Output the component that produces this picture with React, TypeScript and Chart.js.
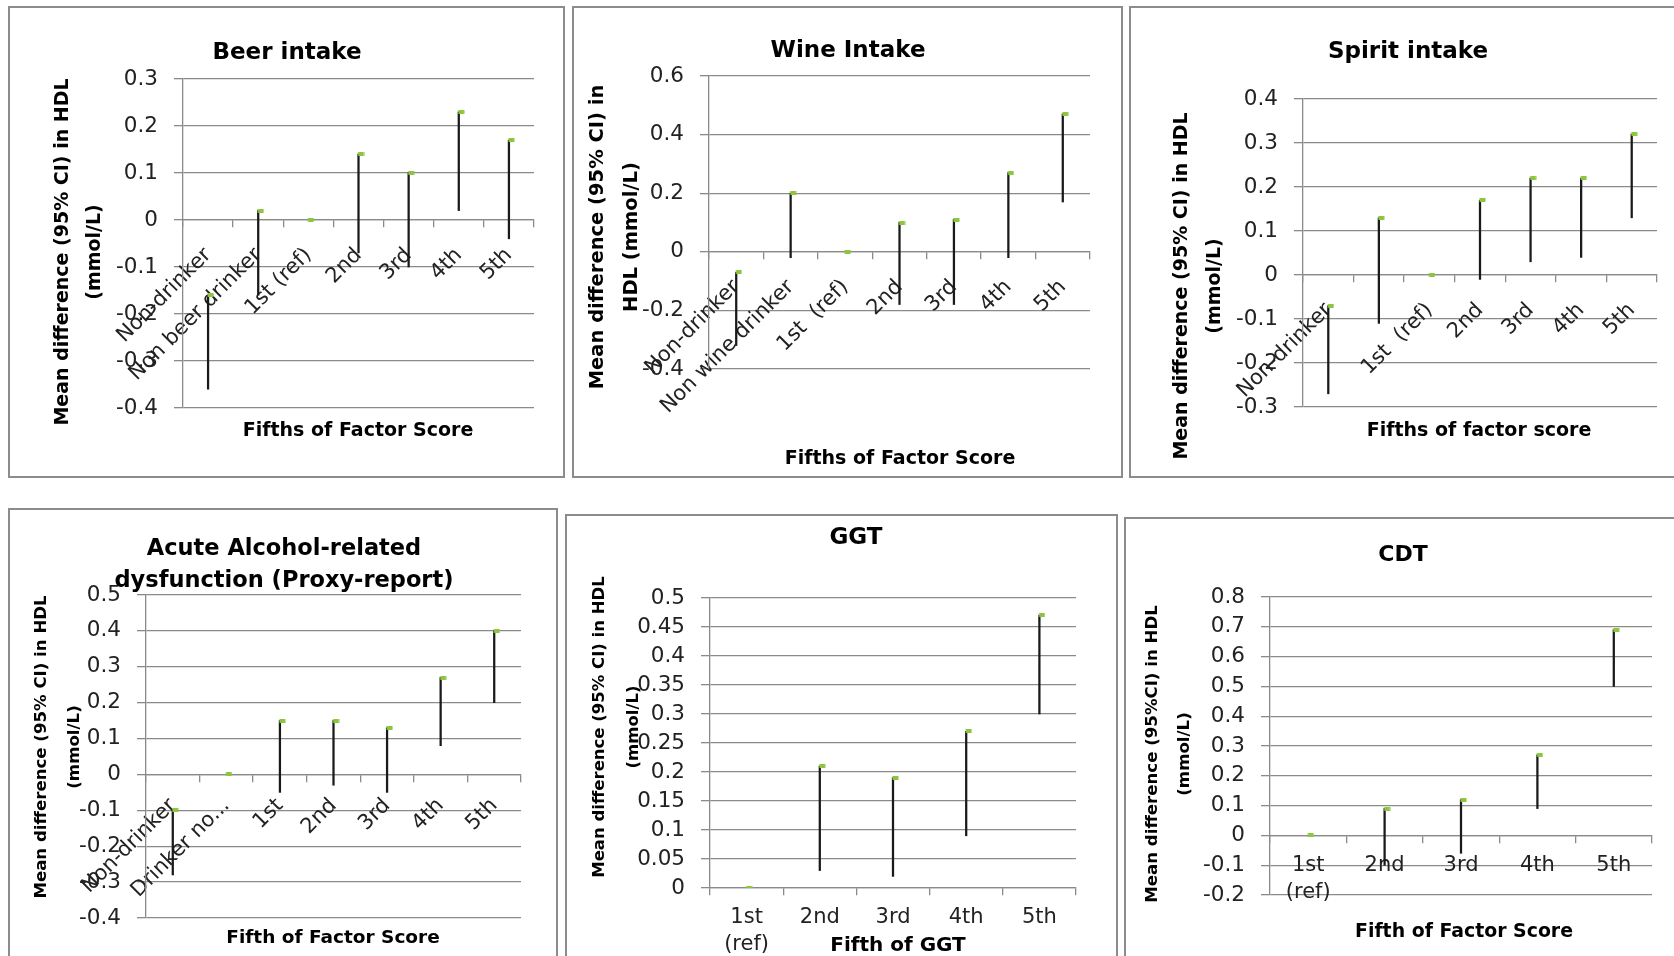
import React, { useEffect, useRef } from "react";
import { Chart, registerables } from "chart.js";

Chart.register(...registerables);

const FONT = "'DejaVu Sans', sans-serif";

// ---------------- data ----------------
const BEER_CATEGORIES = ["Non-drinker", "Non beer drinker", "1st (ref)", "2nd", "3rd", "4th", "5th"];
const BEER_MEAN = [-0.16, 0.02, 0, 0.14, 0.1, 0.23, 0.17];
const BEER_LOW = [-0.36, -0.16, 0, -0.07, -0.1, 0.02, -0.04];
const BEER_TICKS = [-0.4, -0.3, -0.2, -0.1, 0, 0.1, 0.2, 0.3];

const WINE_CATEGORIES = ["Non-drinker", "Non wine drinker", "1st  (ref)", "2nd", "3rd", "4th", "5th"];
const WINE_MEAN = [-0.07, 0.2, 0, 0.1, 0.11, 0.27, 0.47];
const WINE_LOW = [-0.32, -0.02, 0, -0.18, -0.18, -0.02, 0.17];
const WINE_TICKS = [-0.4, -0.2, 0, 0.2, 0.4, 0.6];

const SPIRIT_CATEGORIES = ["Non-drinker", "", "1st  (ref)", "2nd", "3rd", "4th", "5th"];
const SPIRIT_MEAN = [-0.07, 0.13, 0, 0.17, 0.22, 0.22, 0.32];
const SPIRIT_LOW = [-0.27, -0.11, 0, -0.01, 0.03, 0.04, 0.13];
const SPIRIT_TICKS = [-0.3, -0.2, -0.1, 0, 0.1, 0.2, 0.3, 0.4];

const ACUTE_CATEGORIES = ["Non-drinker", "Drinker no...", "1st", "2nd", "3rd", "4th", "5th"];
const ACUTE_MEAN = [-0.1, 0, 0.15, 0.15, 0.13, 0.27, 0.4];
const ACUTE_LOW = [-0.28, 0, -0.05, -0.03, -0.05, 0.08, 0.2];
const ACUTE_TICKS = [-0.4, -0.3, -0.2, -0.1, 0, 0.1, 0.2, 0.3, 0.4, 0.5];

const GGT_CATEGORIES = [["1st", "(ref)"], "2nd", "3rd", "4th", "5th"];
const GGT_MEAN = [0, 0.21, 0.19, 0.27, 0.47];
const GGT_LOW = [0, 0.03, 0.02, 0.09, 0.3];
const GGT_TICKS = [0, 0.05, 0.1, 0.15, 0.2, 0.25, 0.3, 0.35, 0.4, 0.45, 0.5];

const CDT_CATEGORIES = [["1st", "(ref)"], "2nd", "3rd", "4th", "5th"];
const CDT_MEAN = [0, 0.09, 0.12, 0.27, 0.69];
const CDT_LOW = [0, -0.1, -0.06, 0.09, 0.5];
const CDT_TICKS = [-0.2, -0.1, 0, 0.1, 0.2, 0.3, 0.4, 0.5, 0.6, 0.7, 0.8];

const Y_TITLE = ["Mean difference (95% CI) in HDL", "(mmol/L)"];

// ---------------- panel layout ----------------
type PanelCfg = {
  box: number[];
  plot: number[];
  cats: (string | string[])[];
  mean: number[];
  low: number[];
  ticks: number[];
  rotation: number;
  labelPad: number;
  title: string[];
  titleX: number;
  titleY: number[];
  titleSize: number;
  xTitle: string;
  xTitleX: number;
  xTitleY: number;
  xTitleSize: number;
  yTitle: string[];
  yTitleX: number[];
  yTitleY: number;
  yTitleSize: number;
};

const PANELS: PanelCfg[] = [
  {
    box: [8, 6, 565, 478], plot: [183, 79, 534, 408],
    cats: BEER_CATEGORIES, mean: BEER_MEAN, low: BEER_LOW, ticks: BEER_TICKS,
    rotation: 45, labelPad: 16,
    title: ["Beer intake"], titleX: 287, titleY: [59], titleSize: 23,
    xTitle: "Fifths of Factor Score", xTitleX: 358, xTitleY: 436, xTitleSize: 19,
    yTitle: Y_TITLE, yTitleX: [68, 100], yTitleY: 252, yTitleSize: 19,
  },
  {
    box: [572, 6, 1123, 478], plot: [709, 76, 1090, 369],
    cats: WINE_CATEGORIES, mean: WINE_MEAN, low: WINE_LOW, ticks: WINE_TICKS,
    rotation: 45, labelPad: 16,
    title: ["Wine Intake"], titleX: 848, titleY: [57], titleSize: 23,
    xTitle: "Fifths of Factor Score", xTitleX: 900, xTitleY: 464, xTitleSize: 19,
    yTitle: ["Mean difference (95% CI) in", "HDL (mmol/L)"], yTitleX: [603, 637], yTitleY: 237, yTitleSize: 19.5,
  },
  {
    box: [1129, 6, 1740, 478], plot: [1303, 99, 1657, 407],
    cats: SPIRIT_CATEGORIES, mean: SPIRIT_MEAN, low: SPIRIT_LOW, ticks: SPIRIT_TICKS,
    rotation: 45, labelPad: 16,
    title: ["Spirit intake"], titleX: 1408, titleY: [58], titleSize: 23,
    xTitle: "Fifths of factor score", xTitleX: 1479, xTitleY: 436, xTitleSize: 19,
    yTitle: Y_TITLE, yTitleX: [1187, 1220], yTitleY: 286, yTitleSize: 19,
  },
  {
    box: [8, 508, 558, 990], plot: [146, 595, 521, 918],
    cats: ACUTE_CATEGORIES, mean: ACUTE_MEAN, low: ACUTE_LOW, ticks: ACUTE_TICKS,
    rotation: 45, labelPad: 12,
    title: ["Acute Alcohol-related", "dysfunction (Proxy-report)"], titleX: 284, titleY: [555, 587], titleSize: 22.5,
    xTitle: "Fifth of Factor Score", xTitleX: 333, xTitleY: 943, xTitleSize: 18.5,
    yTitle: Y_TITLE, yTitleX: [46, 79], yTitleY: 747, yTitleSize: 16.6,
  },
  {
    box: [565, 514, 1118, 990], plot: [710, 598, 1076, 888],
    cats: GGT_CATEGORIES, mean: GGT_MEAN, low: GGT_LOW, ticks: GGT_TICKS,
    rotation: 0, labelPad: 9,
    title: ["GGT"], titleX: 856, titleY: [544], titleSize: 23,
    xTitle: "Fifth of GGT", xTitleX: 898, xTitleY: 951, xTitleSize: 20,
    yTitle: Y_TITLE, yTitleX: [604, 638], yTitleY: 727, yTitleSize: 16.5,
  },
  {
    box: [1124, 517, 1740, 990], plot: [1270, 597, 1652, 895],
    cats: CDT_CATEGORIES, mean: CDT_MEAN, low: CDT_LOW, ticks: CDT_TICKS,
    rotation: 0, labelPad: 9,
    title: ["CDT"], titleX: 1403, titleY: [561], titleSize: 22,
    xTitle: "Fifth of Factor Score", xTitleX: 1464, xTitleY: 937, xTitleSize: 18.9,
    yTitle: ["Mean difference (95%CI) in HDL", "(mmol/L)"], yTitleX: [1157, 1189], yTitleY: 754, yTitleSize: 16.6,
  },
];

const BORDER = 2;
const GRID = "#8a8a8a";

function Panel({ cfg }: { cfg: PanelCfg }) {
  const ref = useRef<HTMLCanvasElement | null>(null);
  const [L, T, R, B] = cfg.box;
  const ox = L + BORDER;
  const oy = T + BORDER;
  const cw = R - L - 2 * BORDER;
  const ch = B - T - 2 * BORDER;

  useEffect(() => {
    const canvas = ref.current;
    if (!canvas) return;
    const marker = document.createElement("canvas");
    marker.width = 12;
    marker.height = 4;
    const mctx = marker.getContext("2d");
    if (mctx) {
      mctx.fillStyle = "#8cc63f";
      mctx.fillRect(5.5, 0, 6, 4);
    }
    const [pl, pt, pr, pb] = cfg.plot;

    const textPlugin = {
      id: "panelText",
      afterDraw(chart: any) {
        const ctx = chart.ctx as CanvasRenderingContext2D;
        ctx.save();
        ctx.fillStyle = "#000";
        ctx.textAlign = "center";
        ctx.textBaseline = "alphabetic";
        ctx.font = `bold ${cfg.titleSize}px ${FONT}`;
        cfg.title.forEach((t, i) => ctx.fillText(t, cfg.titleX - ox, cfg.titleY[i] - oy));
        ctx.font = `bold ${cfg.xTitleSize}px ${FONT}`;
        ctx.fillText(cfg.xTitle, cfg.xTitleX - ox, cfg.xTitleY - oy);
        ctx.font = `bold ${cfg.yTitleSize}px ${FONT}`;
        cfg.yTitle.forEach((t, i) => {
          ctx.save();
          ctx.translate(cfg.yTitleX[i] - ox, cfg.yTitleY - oy);
          ctx.rotate(-Math.PI / 2);
          ctx.fillText(t, 0, 0);
          ctx.restore();
        });
        ctx.restore();
      },
    };

    const chart = new Chart(canvas, {
      type: "bar",
      data: {
        labels: cfg.cats as any,
        datasets: [
          {
            type: "line",
            data: cfg.mean,
            showLine: false,
            pointStyle: marker as any,
            pointRadius: 3,
            pointHoverRadius: 3,
            order: 0,
          } as any,
          {
            type: "bar",
            data: cfg.low.map((l, i) => (l === cfg.mean[i] ? null : [l, cfg.mean[i]])),
            backgroundColor: "#1a1a1a",
            borderWidth: 0,
            barThickness: 1.6,
            order: 1,
          } as any,
        ],
      },
      options: {
        responsive: false,
        animation: false,
        events: [],
        layout: {
          padding: {
            left: 0,
            top: pt - oy,
            right: cw - (pr - ox),
            bottom: ch - (pb - oy),
          },
        },
        plugins: {
          legend: { display: false },
          tooltip: { enabled: false },
          title: { display: false },
        },
        scales: {
          x: {
            type: "category",
            position: { y: 0 } as any,
            offset: true,
            grid: {
              display: true,
              drawOnChartArea: false,
              drawTicks: true,
              tickLength: 7,
              offset: true,
              color: GRID,
              lineWidth: 1.3,
            },
            border: { display: true, color: GRID, width: 1.3 },
            ticks: {
              autoSkip: false,
              maxRotation: cfg.rotation,
              minRotation: cfg.rotation,
              padding: cfg.labelPad,
              color: "#222",
              font: { family: FONT, size: 21, lineHeight: cfg.rotation ? 1.2 : 1.3 },
            },
          },
          y: {
            type: "linear",
            min: cfg.ticks[0],
            max: cfg.ticks[cfg.ticks.length - 1],
            afterBuildTicks: (s: any) => {
              s.ticks = cfg.ticks.map((v) => ({ value: v }));
            },
            afterFit: (s: any) => {
              s.width = pl - ox;
            },
            grid: { color: GRID, lineWidth: 1.3, tickLength: 9, drawTicks: true },
            border: { display: true, color: GRID, width: 1.3 },
            ticks: {
              padding: 16,
              color: "#222",
              font: { family: FONT, size: 21.5 },
              callback: (v: any) => String(Math.round(Number(v) * 1000) / 1000),
            },
          },
        },
      } as any,
      plugins: [textPlugin],
    });
    return () => chart.destroy();
  }, []);

  return (
    <div
      style={{
        position: "absolute",
        left: L,
        top: T,
        width: R - L,
        height: B - T,
        border: `${BORDER}px solid #8c8c8c`,
        boxSizing: "border-box",
        background: "#fff",
      }}
    >
      <canvas
        ref={ref}
        width={cw}
        height={ch}
        style={{ position: "absolute", left: 0, top: 0, width: cw, height: ch }}
      />
    </div>
  );
}

export default function App() {
  return (
    <div
      style={{
        position: "fixed",
        left: 0,
        top: 0,
        width: 1674,
        height: 956,
        overflow: "hidden",
        background: "#fff",
      }}
    >
      {PANELS.map((p, i) => (
        <Panel key={i} cfg={p} />
      ))}
    </div>
  );
}
